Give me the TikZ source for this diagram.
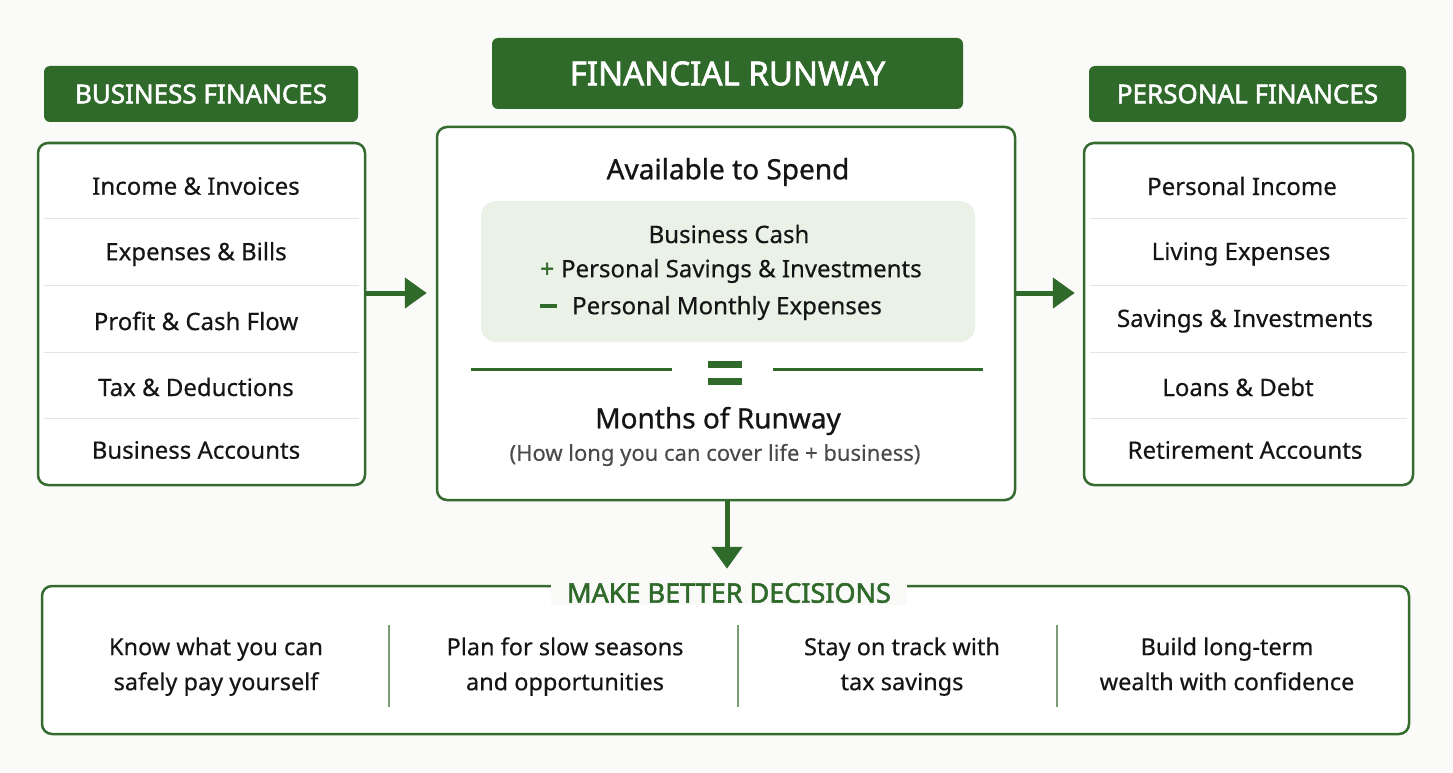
\documentclass[tikz,border=0pt]{standalone}
\usepackage{fontspec}
\setmainfont{Noto Sans}
\usetikzlibrary{arrows.meta,calc}
\definecolor{dgreen}{HTML}{2F6A2B}
\definecolor{bgreen}{HTML}{356B2F}
\definecolor{lgreen}{HTML}{EAF2E7}
\definecolor{sepgray}{HTML}{E4E4E4}
\definecolor{vsep}{HTML}{7A9C74}
\definecolor{bg}{HTML}{FAFAF9}
\definecolor{txt}{HTML}{151515}
\definecolor{subtxt}{HTML}{4A4A4A}
\begin{document}
\begin{tikzpicture}[x=1pt,y=-1pt,
  header/.style={fill=dgreen, rounded corners=6pt, text=white, inner sep=0pt,
    font=\fontsize{26}{30}\selectfont\addfontfeature{FakeBold=2}},
  panel/.style={draw=bgreen, line width=2.5pt, fill=white, rounded corners=10pt, inner sep=0pt},
  item/.style={font=\fontsize{24}{28}\selectfont\addfontfeature{FakeBold=0.4}, text=txt, inner sep=0pt},
  title/.style={font=\fontsize{28}{32}\selectfont\addfontfeature{FakeBold=0.9}, text=txt, inner sep=0pt},
  sepline/.style={draw=sepgray, line width=1pt},
  arr/.style={draw=dgreen, line width=5pt, -{Triangle[length=22pt,width=30pt]}},
  col/.style={font=\fontsize{23.5}{35}\selectfont\addfontfeature{FakeBold=0.4}, text=txt, align=center, inner sep=0pt}
]
\fill[bg] (0,0) rectangle (1453,773);
\useasboundingbox (0,0) rectangle (1453,773);

% ---------- left column ----------
\node[header, minimum width=314pt, minimum height=56pt] (bh) at (201,94) {BUSINESS FINANCES};
\node[panel, minimum width=327pt, minimum height=342pt] (lp) at (201.5,314) {};
\foreach \y in {218,285,352,418} \draw[sepline] (44,\y) -- (359,\y);
\node[item] (l1) at (196,186) {Income \& Invoices};
\node[item] (l2) at (196,254) {Expenses \& Bills};
\node[item] (l3) at (196,321) {Profit \& Cash Flow};
\node[item] (l4) at (196,387) {Tax \& Deductions};
\node[item] (l5) at (196,450) {Business Accounts};

% ---------- right column ----------
\node[header, minimum width=317pt, minimum height=56pt] (ph) at (1247.5,94) {PERSONAL FINANCES};
\node[panel, minimum width=329pt, minimum height=342pt] (rp) at (1248.5,314) {};
\foreach \y in {218,285,352,418} \draw[sepline] (1090,\y) -- (1407,\y);
\node[item] (r1) at (1242,186) {Personal Income};
\node[item] (r2) at (1241,254) {Living Expenses};
\node[item] (r3) at (1245,321) {Savings \& Investments};
\node[item] (r4) at (1238,387) {Loans \& Debt};
\node[item] (r5) at (1245,450) {Retirement Accounts};

% ---------- centre ----------
\node[header, font=\fontsize{33}{37}\selectfont\addfontfeature{FakeBold=2}, minimum width=471pt, minimum height=71pt] (ch) at (727.5,73.5) {FINANCIAL RUNWAY};
\node[panel, minimum width=578pt, minimum height=373pt] (cp) at (726,313.5) {};
\node[title] (avail) at (728,172) {Available to Spend};
\node[fill=lgreen, rounded corners=15pt, minimum width=494pt, minimum height=141pt, inner sep=0pt] (fbox) at (728,271.5) {};
\node[item] (f1) at (729,234) {Business Cash};
\node[item] (f2) at (731,271) {{\color{dgreen}\addfontfeature{FakeBold=2}+}\hspace{7pt}Personal Savings \& Investments};
\node[item] (f3) at (711,308) {{\color{dgreen}\rule[0.28em]{17pt}{3.4pt}}\hspace{15pt}Personal Monthly Expenses};

\draw[draw=dgreen, line width=3pt] (471,369) -- (672,369);
\draw[draw=dgreen, line width=3pt] (773,369) -- (983,369);
\node[minimum width=34pt, minimum height=23pt, inner sep=0pt] (eq) at (725,373) {};
\fill[dgreen] (eq.north west) rectangle ($(eq.north east)+(0,7)$);
\fill[dgreen] ($(eq.south west)+(0,-7)$) rectangle (eq.south east);

\node[title] (months) at (718,421) {Months of Runway};
\node[item, font=\fontsize{22}{26}\selectfont\addfontfeature{FakeBold=0.2}, text=subtxt] (how) at (715,455) {(How long you can cover life + business)};

% ---------- connectors ----------
\coordinate (ay) at (0,293);
\draw[arr, shorten >=9pt] (lp.east |- ay) -- (cp.west |- ay);
\draw[arr, shorten >=8pt] (cp.east |- ay) -- (rp.west |- ay);

% ---------- bottom ----------
\node[panel, minimum width=1367pt, minimum height=148pt] (bp) at (725.5,660) {};
\draw[arr, shorten >=16pt] (cp.south -| 727,0) -- (bp.north -| 727,0);
\node[fill=bg, inner xsep=16pt, inner ysep=2pt, text=dgreen,
  font=\fontsize{27}{31}\selectfont\addfontfeature{FakeBold=2}] (mbd) at (729,593) {MAKE BETTER DECISIONS};
\foreach \x in {389,738,1057} \draw[draw=vsep, line width=1.5pt] (\x,625) -- (\x,707);
\node[col] (d1) at (216,669) {Know what you can\\safely pay yourself\strut};
\node[col] (d2) at (565,669) {Plan for slow seasons\\and opportunities\strut};
\node[col] (d3) at (902,669) {Stay on track with\\tax savings\strut};
\node[col] (d4) at (1227,669) {Build long-term\\wealth with confidence\strut};
\end{tikzpicture}
\end{document}
